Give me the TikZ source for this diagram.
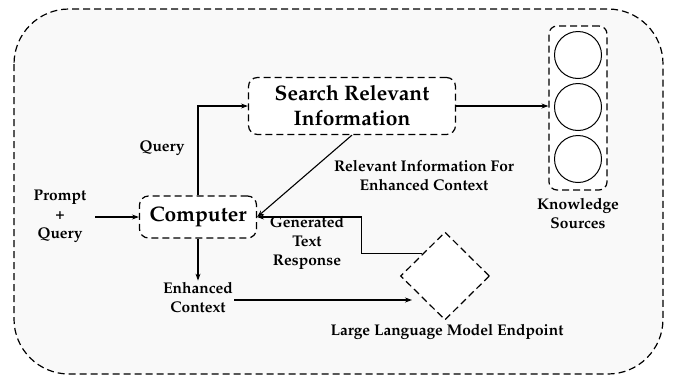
\documentclass[tikz,border=0pt]{standalone}
\usepackage[T1]{fontenc}
\usepackage{mathpazo}
\usetikzlibrary{shapes.geometric,arrows.meta}
\begin{document}
\begin{tikzpicture}[x=1pt,y=-1pt,
  dsh/.style={line width=1.2pt,dash pattern=on 7pt off 4pt},
  box/.style={dsh,draw,fill=white,rounded corners=9pt,align=center,inner sep=0pt,
    font=\fontsize{21}{25}\selectfont\bfseries},
  lbl/.style={align=center,inner sep=1pt,font=\fontsize{15.5}{19}\selectfont\bfseries},
  ring/.style={circle,draw,line width=1pt,fill=white,minimum size=47pt,inner sep=0pt},
  arr/.style={line width=1.1pt,-{Stealth[length=7pt,width=5pt]}}]
\useasboundingbox (0,0) rectangle (676,381);
\draw[dsh,fill=gray!5,rounded corners=55pt] (14,9) rectangle (663,374);
\node[box,minimum width=207pt,minimum height=57pt] (search) at (352,106) {Search Relevant\\Information};
\node[box,minimum width=117pt,minimum height=42pt] (comp) at (198,217) {Computer};
\node[dsh,draw,fill=white,rounded corners=8pt,minimum width=58pt,minimum height=164pt,inner sep=0pt] (ks) at (578,108) {};
\node[ring] (c1) at (578,55) {};
\node[ring] (c2) at (578,107) {};
\node[ring] (c3) at (578,159) {};
\node[lbl] (kslbl) at (578,213) {Knowledge\\Sources};
\node[diamond,dsh,draw,fill=white,minimum width=89pt,minimum height=88pt,inner sep=0pt] (llm) at (445,276) {};
\node[lbl] (llmlbl) at (447,332) {Large Language Model Endpoint};
\node[lbl] (pq) at (60,216) {Prompt\\+\\Query};
\node[lbl] (ql) at (162,148) {Query};
\node[lbl] (rel) at (424,175) {Relevant Information For\\Enhanced Context};
\node[lbl] (gen) at (307,243) {Generated\\Text\\Response};
\node[lbl] (ec) at (198,297) {Enhanced\\Context};
\coordinate (llmin) at (412,300);
\draw[arr,shorten <=8pt] (pq.east |- comp.west) -- (comp.west);
\draw[arr] (comp.north) |- (search.west);
\draw[arr] (search.east) -- (search.east -| ks.west);
\draw[arr] (search.south) -- (comp.east);
\draw[arr] (llm.north west) -- ++(-61,0) |- (comp.east);
\draw[arr] (comp.south) -- (ec.north);
\draw[arr] (ec.east |- llmin) -- (llmin);
\end{tikzpicture}
\end{document}
